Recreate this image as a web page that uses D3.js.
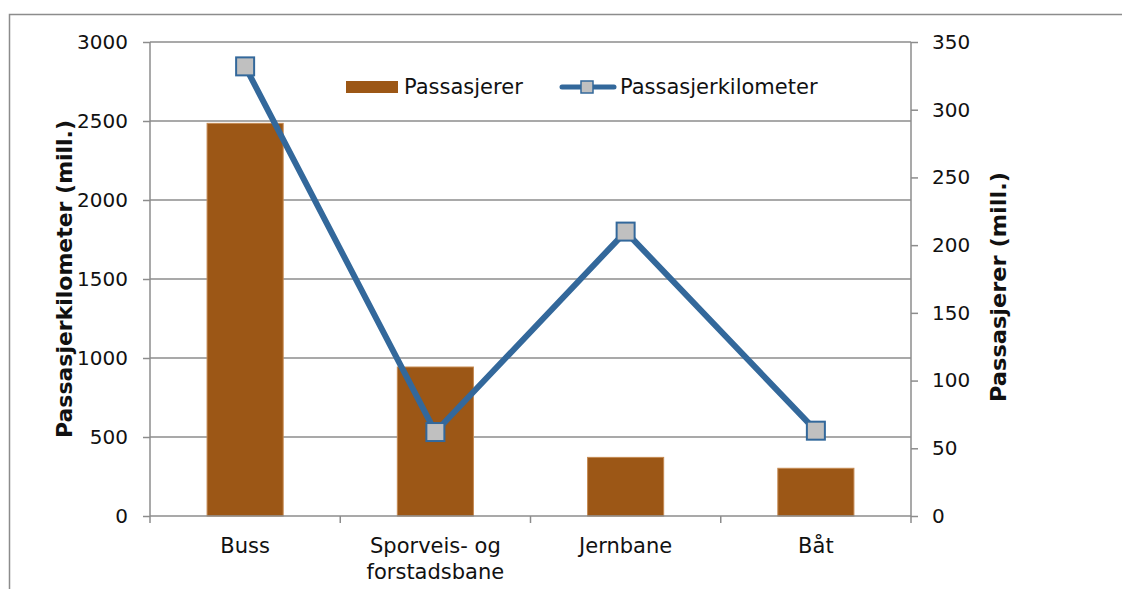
<!DOCTYPE html>
<html>
<head>
<meta charset="utf-8">
<script src="https://cdn.jsdelivr.net/npm/d3@7"></script>
<style>
  html, body { margin: 0; padding: 0; background: #fff; }
  svg { display: block; font-family: "DejaVu Sans", Verdana, sans-serif; }
</style>
</head>
<body>
<svg id="chart" width="1122" height="589"></svg>
<script>
// Transport modes and their figures
const categories = ["Buss", "Sporveis- og\nforstadsbane", "Jernbane", "Båt"];
const passasjerer = [2485, 943, 371, 302];          // bars, left axis
const passasjerkilometer = [332, 62, 210, 63];      // line, right axis
const leftTicks = [0, 500, 1000, 1500, 2000, 2500, 3000];
const rightTicks = [0, 50, 100, 150, 200, 250, 300, 350];

const svg = d3.select("#chart");
const margin = { left: 150, right: 911, top: 42, bottom: 516 };
const gridColor = "#8c8c8c";
const tickFont = 20;
const textFont = 21;
const lineColor = "#33689b";

// Outer frame
svg.append("rect")
  .attr("x", 9.5).attr("y", 14.5)
  .attr("width", 1130).attr("height", 600)
  .attr("fill", "none").attr("stroke", "#8c8c8c").attr("stroke-width", 1.5);

const x = d3.scaleBand().domain(categories).range([margin.left, margin.right]);
const yL = d3.scaleLinear().domain([0, 3000]).range([margin.bottom, margin.top]);
const yR = d3.scaleLinear().domain([0, 350]).range([margin.bottom, margin.top]);

// Horizontal gridlines
svg.append("g").selectAll("line").data(leftTicks.filter(d => d > 0)).join("line")
  .attr("x1", margin.left).attr("x2", margin.right)
  .attr("y1", d => yL(d)).attr("y2", d => yL(d))
  .attr("stroke", gridColor).attr("stroke-width", 1.5);

// Left and right value axes
const leftAxis = svg.append("g").attr("transform", `translate(${margin.left},0)`)
  .call(d3.axisLeft(yL).tickValues(leftTicks).tickSize(7).tickPadding(15).tickFormat(d3.format("d")));
const rightAxis = svg.append("g").attr("transform", `translate(${margin.right},0)`)
  .call(d3.axisRight(yR).tickValues(rightTicks).tickSize(7).tickPadding(14).tickFormat(d3.format("d")));
[leftAxis, rightAxis].forEach(g => {
  g.select(".domain").attr("stroke", gridColor).attr("stroke-width", 1.5)
    .attr("d", `M0,${margin.top}V${margin.bottom}`);
  g.selectAll(".tick line").attr("stroke", gridColor).attr("stroke-width", 1.5);
  g.selectAll(".tick text").attr("fill", "#111").style("font-size", tickFont + "px")
    .style("font-family", "'DejaVu Sans', Verdana, sans-serif");
});

// Bars
const barW = x.bandwidth() * 0.4;
svg.append("g").selectAll("rect").data(categories).join("rect")
  .attr("x", d => x(d) + (x.bandwidth() - barW) / 2)
  .attr("y", (d, i) => yL(passasjerer[i]))
  .attr("width", barW)
  .attr("height", (d, i) => yL(0) - yL(passasjerer[i]))
  .attr("fill", "#9c5716").attr("stroke", "#c58a52").attr("stroke-width", 1);

// Category axis
const bottom = svg.append("g").attr("transform", `translate(0,${margin.bottom})`);
bottom.append("line").attr("x1", margin.left).attr("x2", margin.right)
  .attr("stroke", gridColor).attr("stroke-width", 1.5);
const boundaries = categories.map(c => x(c)).concat([margin.right]);
bottom.selectAll("line.tk").data(boundaries).join("line").attr("class", "tk")
  .attr("x1", d => d).attr("x2", d => d).attr("y1", 0).attr("y2", 7)
  .attr("stroke", gridColor).attr("stroke-width", 1.5);
const labels = bottom.selectAll("text").data(categories).join("text")
  .attr("text-anchor", "middle").attr("fill", "#111")
  .style("font-size", textFont + "px")
  .attr("x", d => x(d) + x.bandwidth() / 2)
  .attr("y", 37);
labels.each(function(d) {
  const t = d3.select(this);
  d.split("\n").forEach((line, i) => {
    t.append("tspan").attr("x", x(d) + x.bandwidth() / 2).attr("dy", i === 0 ? 0 : 26).text(line);
  });
});

// Line series with square markers
const cx = d => x(d) + x.bandwidth() / 2;
const lineGen = d3.line().x((d, i) => cx(categories[i])).y(d => yR(d));
svg.append("path").datum(passasjerkilometer)
  .attr("d", lineGen).attr("fill", "none")
  .attr("stroke", lineColor).attr("stroke-width", 6).attr("stroke-linejoin", "round");
const ms = 18;
svg.append("g").selectAll("rect").data(passasjerkilometer).join("rect")
  .attr("x", (d, i) => cx(categories[i]) - ms / 2)
  .attr("y", d => yR(d) - ms / 2)
  .attr("width", ms).attr("height", ms)
  .attr("fill", "#c0c0c0").attr("stroke", lineColor).attr("stroke-width", 2);

// Axis titles
svg.append("text")
  .attr("transform", `translate(72,279) rotate(-90)`)
  .attr("text-anchor", "middle").attr("fill", "#111")
  .attr("textLength", 318).attr("lengthAdjust", "spacingAndGlyphs")
  .style("font-size", "21px").style("font-weight", "bold")
  .text("Passasjerkilometer (mill.)");
svg.append("text")
  .attr("transform", `translate(1006,287) rotate(-90)`)
  .attr("text-anchor", "middle").attr("fill", "#111")
  .attr("textLength", 230).attr("lengthAdjust", "spacingAndGlyphs")
  .style("font-size", "21px").style("font-weight", "bold")
  .text("Passasjerer (mill.)");

// Legend
const leg = svg.append("g").attr("transform", "translate(0,87)");
leg.append("rect").attr("x", 346).attr("y", -6).attr("width", 52).attr("height", 12).attr("fill", "#9c5716");
leg.append("text").attr("x", 404).attr("y", 7).attr("fill", "#111").style("font-size", textFont + "px").text("Passasjerer");
leg.append("line").attr("x1", 562).attr("x2", 614).attr("y1", 0).attr("y2", 0)
  .attr("stroke", lineColor).attr("stroke-width", 5).attr("stroke-linecap", "round");
leg.append("rect").attr("x", 581).attr("y", -6).attr("width", 12).attr("height", 12)
  .attr("fill", "#c0c0c0").attr("stroke", lineColor).attr("stroke-width", 1.5);
leg.append("text").attr("x", 620).attr("y", 7).attr("fill", "#111").style("font-size", textFont + "px").text("Passasjerkilometer");
</script>
</body>
</html>
